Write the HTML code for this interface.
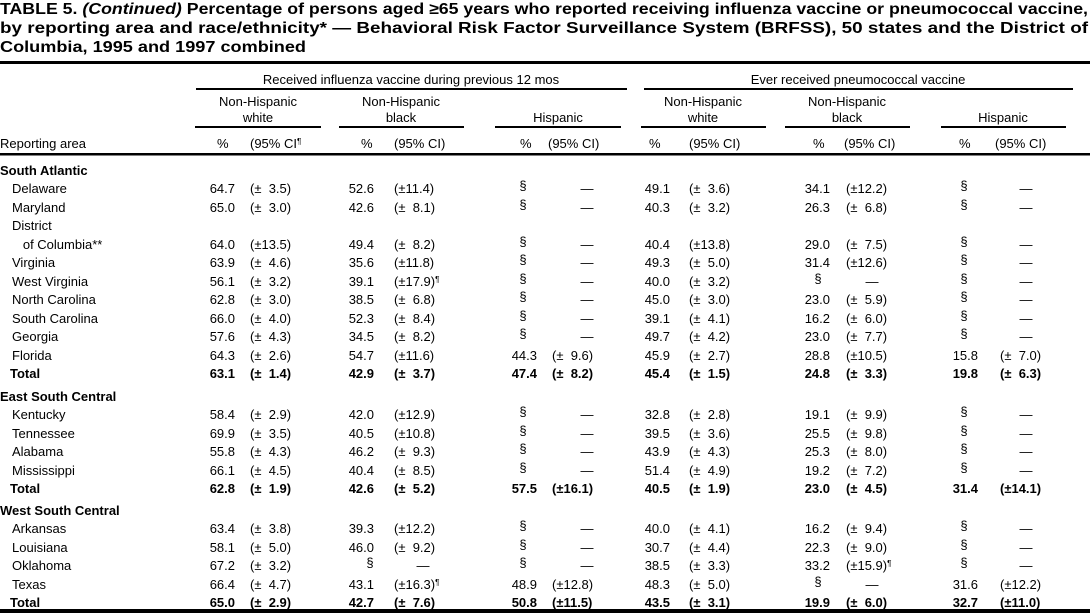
<!DOCTYPE html>
<html><head><meta charset="utf-8"><style>
html,body{margin:0;padding:0;background:#fff;}
svg{display:block;}
text{font-family:"Liberation Sans",Arial,sans-serif;fill:#000;}
.t{font-size:15.5px;font-weight:bold;}
.d{font-size:13px;}
.b{font-size:13px;font-weight:bold;}
.e{text-anchor:end;}
.m{text-anchor:middle;}
</style></head><body>
<svg width="1090" height="613" viewBox="0 0 1090 613">
<text class="t" x="0" y="14" textLength="1088" lengthAdjust="spacingAndGlyphs">TABLE 5. <tspan font-style="italic">(Continued)</tspan> Percentage of persons aged ≥65 years who reported receiving influenza vaccine or pneumococcal vaccine,</text>
<text class="t" x="0" y="33" textLength="1088" lengthAdjust="spacingAndGlyphs">by reporting area and race/ethnicity* — Behavioral Risk Factor Surveillance System (BRFSS), 50 states and the District of</text>
<text class="t" x="0" y="52" textLength="306" lengthAdjust="spacingAndGlyphs">Columbia, 1995 and 1997 combined</text>
<rect x="0" y="61" width="1090" height="3"/>
<text class="d m" x="411" y="84">Received influenza vaccine during previous 12 mos</text>
<text class="d m" x="858" y="84">Ever received pneumococcal vaccine</text>
<rect x="196" y="88" width="431" height="2"/>
<rect x="644" y="88" width="429" height="2"/>
<g class="d">
<text class="m" x="258" y="106">Non-Hispanic</text><text class="m" x="258" y="122">white</text>
<text class="m" x="401" y="106">Non-Hispanic</text><text class="m" x="401" y="122">black</text>
<text class="m" x="558" y="122">Hispanic</text>
<text class="m" x="703" y="106">Non-Hispanic</text><text class="m" x="703" y="122">white</text>
<text class="m" x="847" y="106">Non-Hispanic</text><text class="m" x="847" y="122">black</text>
<text class="m" x="1003" y="122">Hispanic</text>
</g>
<rect x="195" y="126" width="126" height="2"/>
<rect x="339" y="126" width="125" height="2"/>
<rect x="495" y="126" width="126" height="2"/>
<rect x="641" y="126" width="125" height="2"/>
<rect x="785" y="126" width="125" height="2"/>
<rect x="941" y="126" width="125" height="2"/>
<g class="d">
<text x="0" y="148">Reporting area</text>
<text x="217" y="148">%</text><text x="250" y="148">(95% CI<tspan font-size="8" dy="-4">¶</tspan></text>
<text x="361" y="148">%</text><text x="394" y="148">(95% CI)</text>
<text x="520" y="148">%</text><text x="548" y="148">(95% CI)</text>
<text x="649" y="148">%</text><text x="689" y="148">(95% CI)</text>
<text x="813" y="148">%</text><text x="844" y="148">(95% CI)</text>
<text x="959" y="148">%</text><text x="995" y="148">(95% CI)</text>
</g>
<rect x="0" y="153" width="1090" height="2.5"/>
<g id="rows"></g>
<rect x="0" y="609" width="1090" height="4"/>
</svg>
<script>
var rows=[
["h","South Atlantic",175],
["d","Delaware",193,"64.7","(± 3.5)","52.6","(±11.4)","s","","49.1","(± 3.6)","34.1","(±12.2)","s",""],
["d","Maryland",212,"65.0","(± 3.0)","42.6","(± 8.1)","s","","40.3","(± 3.2)","26.3","(± 6.8)","s",""],
["n","District",230],
["d","   of Columbia**",249,"64.0","(±13.5)","49.4","(± 8.2)","s","","40.4","(±13.8)","29.0","(± 7.5)","s",""],
["d","Virginia",267,"63.9","(± 4.6)","35.6","(±11.8)","s","","49.3","(± 5.0)","31.4","(±12.6)","s",""],
["d","West Virginia",286,"56.1","(± 3.2)","39.1","(±17.9)¶","s","","40.0","(± 3.2)","s","","s",""],
["d","North Carolina",304,"62.8","(± 3.0)","38.5","(± 6.8)","s","","45.0","(± 3.0)","23.0","(± 5.9)","s",""],
["d","South Carolina",323,"66.0","(± 4.0)","52.3","(± 8.4)","s","","39.1","(± 4.1)","16.2","(± 6.0)","s",""],
["d","Georgia",341,"57.6","(± 4.3)","34.5","(± 8.2)","s","","49.7","(± 4.2)","23.0","(± 7.7)","s",""],
["d","Florida",360,"64.3","(± 2.6)","54.7","(±11.6)","44.3","(± 9.6)","45.9","(± 2.7)","28.8","(±10.5)","15.8","(± 7.0)"],
["t","Total",378,"63.1","(± 1.4)","42.9","(± 3.7)","47.4","(± 8.2)","45.4","(± 1.5)","24.8","(± 3.3)","19.8","(± 6.3)"],
["h","East South Central",401],
["d","Kentucky",419,"58.4","(± 2.9)","42.0","(±12.9)","s","","32.8","(± 2.8)","19.1","(± 9.9)","s",""],
["d","Tennessee",438,"69.9","(± 3.5)","40.5","(±10.8)","s","","39.5","(± 3.6)","25.5","(± 9.8)","s",""],
["d","Alabama",456,"55.8","(± 4.3)","46.2","(± 9.3)","s","","43.9","(± 4.3)","25.3","(± 8.0)","s",""],
["d","Mississippi",475,"66.1","(± 4.5)","40.4","(± 8.5)","s","","51.4","(± 4.9)","19.2","(± 7.2)","s",""],
["t","Total",493,"62.8","(± 1.9)","42.6","(± 5.2)","57.5","(±16.1)","40.5","(± 1.9)","23.0","(± 4.5)","31.4","(±14.1)"],
["h","West South Central",515],
["d","Arkansas",533,"63.4","(± 3.8)","39.3","(±12.2)","s","","40.0","(± 4.1)","16.2","(± 9.4)","s",""],
["d","Louisiana",552,"58.1","(± 5.0)","46.0","(± 9.2)","s","","30.7","(± 4.4)","22.3","(± 9.0)","s",""],
["d","Oklahoma",570,"67.2","(± 3.2)","s","","s","","38.5","(± 3.3)","33.2","(±15.9)¶","s",""],
["d","Texas",589,"66.4","(± 4.7)","43.1","(±16.3)¶","48.9","(±12.8)","48.3","(± 5.0)","s","","31.6","(±12.2)"],
["t","Total",607,"65.0","(± 2.9)","42.7","(± 7.6)","50.8","(±11.5)","43.5","(± 3.1)","19.9","(± 6.0)","32.7","(±11.0)"]
];
var vEnd=[235,374,537,670,830,978], ciX=[250,394,552,689,846,1000], sX=[221,370,523,668,818,964], dX=[276,423,587,714,872,1026];
var NS="http://www.w3.org/2000/svg",g=document.getElementById("rows");
function T(x,y,s,cls,anchor){var t=document.createElementNS(NS,"text");t.setAttribute("x",x);t.setAttribute("y",y);t.setAttribute("class",cls);if(anchor)t.setAttribute("text-anchor",anchor);t.style.whiteSpace="pre";t.textContent=s;g.appendChild(t);return t;}
rows.forEach(function(r){
 var y=r[2];
 if(r[0]=="h"){T(0,y,r[1],"b");return;}
 var cls=r[0]=="t"?"b":"d";
 T(r[0]=="t"?10:12,y,r[1],cls);
 if(r[0]=="n")return;
 for(var i=0;i<6;i++){
  var v=r[3+2*i],c=r[4+2*i];
  if(c)c=c.replace("± ","±\u2007");
  if(v=="s"){var s=T(sX[i],y-3,"§","d","middle");s.setAttribute("font-size","8");T(dX[i],y,"—","d","middle");}
  else{T(vEnd[i],y,v,cls,"end");
   if(c.indexOf("¶")>=0){var t=T(ciX[i],y,c.replace("¶",""),cls);var ts=document.createElementNS(NS,"tspan");ts.setAttribute("font-size","8");ts.setAttribute("dy","-4");ts.textContent="¶";t.appendChild(ts);}
   else T(ciX[i],y,c,cls);}
 }
});
</script>
</body></html>
